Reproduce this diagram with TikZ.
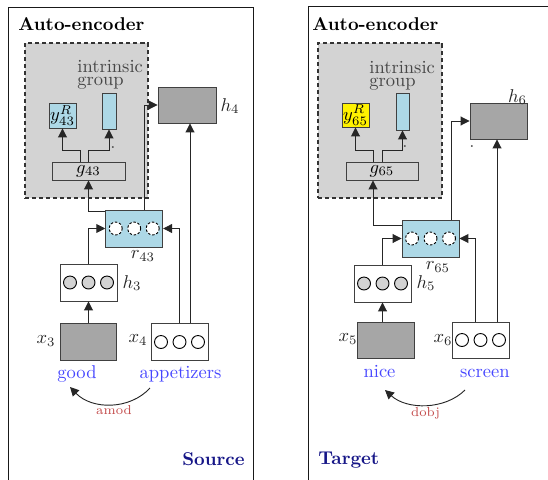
\documentclass[tikz,border=0pt]{standalone}
\usetikzlibrary{arrows.meta,calc}
\def\pxu{0.54pt}
\definecolor{boxblue}{RGB}{173,216,230}
\definecolor{wordblue}{RGB}{70,70,255}
\definecolor{relred}{RGB}{195,75,75}
\definecolor{sidenavy}{RGB}{22,22,135}
\definecolor{grpgray}{RGB}{211,211,211}
\definecolor{hiddengray}{RGB}{166,166,166}
\definecolor{textgray}{RGB}{70,70,70}
\begin{document}
\begin{tikzpicture}[x=\pxu, y=-\pxu,
  sz/.style 2 args={minimum width={#1*\pxu}, minimum height={#2*\pxu}},
  nbox/.style={rectangle, draw=black!75, line width=0.5pt, inner sep=0pt},
  darkbox/.style={nbox, fill=hiddengray},
  bluebox/.style={nbox, fill=boxblue},
  whitebox/.style={nbox, fill=white},
  grpbox/.style={rectangle, draw=black!80, dash pattern=on 2.2pt off 1.6pt, fill=grpgray, line width=0.6pt, inner sep=0pt},
  cell/.style={circle, draw=black, line width=0.5pt, inner sep=0pt, minimum size=7pt},
  embcell/.style={cell, fill=white},
  hidcell/.style={cell, fill=grpgray},
  ctxcell/.style={cell, fill=white, dash pattern=on 1.3pt off 1pt},
  arr/.style={draw=black!85, line width=0.5pt, -{Triangle[length=4.8pt,width=4.8pt]}},
  lbl/.style={inner sep=0pt, text=black!85},
  word/.style={inner sep=0pt, text=wordblue, anchor=base},
  rel/.style={inner sep=0pt, text=relred, font=\scriptsize, anchor=base},
  heading/.style={inner sep=0pt, font=\bfseries, anchor=base west},
  sidelabel/.style={inner sep=0pt, font=\bfseries, text=sidenavy, anchor=base},
  grptext/.style={inner sep=0pt, text=textgray, anchor=base west},
  speck/.style={inner sep=0pt, text=black!70},
  framepen/.style={draw=black!90, line width=0.5pt}]

\useasboundingbox (0,0) rectangle (548,479);
\clip (0,0) rectangle (548,479);

% ---------- panel frames ----------
\draw[framepen] (8,495) -- (8,7) -- (253,7) -- (253,495);
\draw[framepen] (308,495) -- (308,6) -- (560,6);

% ================= source side =================
\node[heading] (ttlS) at (18,31) {Auto-encoder};
\node[grpbox, sz={123}{155}] (grpS) at (86.5,120.5) {};
\node[grptext] (intrS) at (77,72) {intrinsic};
\node[grptext] (groupS) at (77,85) {group};
\node[bluebox, sz={27}{25}] (yS) at (62.5,115.5) {$y^R_{43}$};
\node[bluebox, sz={14}{36}] (barS) at (109,111) {};
\node[speck] (dotS) at (113,148) {.};
\node[nbox, sz={73}{18}] (gS) at (88.5,171) {$g_{43}$};

\node[darkbox, sz={58}{36}] (h4) at (187,105) {};
\node[lbl] (h4l) at (230,106) {$h_4$};

\node[bluebox, sz={57}{37}] (rS) at (134.2,228.5) {};
\foreach \k/\dx in {1/-18.5,2/0,3/18.5}
  \node[ctxcell] (rS\k) at ($(rS)+(\dx,0)$) {};
\node[lbl] (rSl) at (143,256) {$r_{43}$};

\node[whitebox, sz={57}{37}] (h3) at (88.5,282.5) {};
\foreach \k/\dx in {1/-18.5,2/0,3/18.5}
  \node[hidcell] (h3\k) at ($(h3)+(\dx,0)$) {};
\node[lbl] (h3l) at (132,283) {$h_3$};

\node[darkbox, sz={56}{37}] (x3) at (88,341.5) {};
\node[lbl] (x3l) at (46,341) {$x_3$};
\node[whitebox, sz={57}{37}] (x4) at (179.5,341.5) {};
\foreach \k/\dx in {1/-18.5,2/0,3/18.5}
  \node[embcell] (x4\k) at ($(x4)+(\dx,0.5)$) {};
\node[lbl] (x4l) at (138,340) {$x_4$};

\node[word] (good) at (77,378) {good};
\node[word] (appet) at (180.5,378) {appetizers};
\coordinate (amodS) at (150,388);
\coordinate (amodE) at (70,387);
\draw[arr] (amodS) .. controls (130,410) and (92,410) .. (amodE);
\node[rel] (amod) at (114,414) {amod};
\node[sidelabel, anchor=base east] (src) at (245,465) {Source};

% source connectors
\draw[arr] ($(gS.north)+(-8.5,0)$) |- ($(yS.south)+(0,22)$) -- (yS.south);
\draw[arr] (gS.north) |- ($(barS.south)+(0,21)$) -- (barS.south);
\draw[arr] ($(rS.north west)+(0,2)$) -| (gS.south);
\draw[arr] ($(rS.north east)+(-19,0)$) |- (h4.west);
\draw[arr] (h3.north) |- (rS.west);
\draw[arr] (x4.north) |- (rS.east);
\coordinate (x4b) at ($(x4.north)+(10.5,0)$);
\draw[arr] (x4b) -- (x4b |- h4.south);
\draw[arr] (h3.south |- x3.north) -- (h3.south);

% ================= target side =================
\node[heading] (ttlT) at (312,31) {Auto-encoder};
\node[grpbox, sz={124}{155}] (grpT) at (380,120.5) {};
\node[grptext] (intrT) at (369,73) {intrinsic};
\node[grptext] (groupT) at (369,86) {group};
\node[nbox, fill=yellow, sz={27}{24}] (yT) at (355.5,115) {$y^R_{65}$};
\node[bluebox, sz={13}{37}] (barT) at (402.5,111.5) {};
\node[speck] (dotT) at (405,147) {.};
\node[nbox, sz={72}{18}] (gT) at (382,171) {$g_{65}$};

\node[darkbox, sz={57}{36}] (h6) at (498.5,121) {};
\node[lbl] (h6l) at (517.5,97) {$h_6$};
\node[speck] (dotH) at (472,147) {.};

\node[bluebox, sz={57}{37}] (rT) at (430.5,238.5) {};
\foreach \k/\dx in {1/-18.5,2/0,3/18.5}
  \node[ctxcell] (rT\k) at ($(rT)+(\dx,0)$) {};
\node[lbl] (rTl) at (438,267) {$r_{65}$};

\node[whitebox, sz={57}{37}] (h5) at (382.5,283.5) {};
\foreach \k/\dx in {1/-18.5,2/0,3/18.5}
  \node[hidcell] (h5\k) at ($(h5)+(\dx,0)$) {};
\node[lbl] (h5l) at (426,283) {$h_5$};

\node[darkbox, sz={57}{36}] (x5) at (385.5,340) {};
\node[lbl] (x5l) at (348,339) {$x_5$};
\node[whitebox, sz={57}{36}] (x6) at (480.5,340) {};
\foreach \k/\dx in {1/-18.5,2/0,3/18.5}
  \node[embcell] (x6\k) at ($(x6)+(\dx,0)$) {};
\node[lbl] (x6l) at (443,340) {$x_6$};

\node[word] (nice) at (379.5,377) {nice};
\node[word] (screen) at (484.8,377) {screen};
\coordinate (dobjS) at (465,390);
\coordinate (dobjE) at (385,390);
\draw[arr] (dobjS) .. controls (445,410) and (407,410) .. (dobjE);
\node[rel] (dobj) at (425.5,416) {dobj};
\node[sidelabel, anchor=base west] (tgt) at (318,464) {Target};

% target connectors
\draw[arr] ($(gT.north)+(-9,0)$) |- ($(yT.south)+(0,23)$) -- (yT.south);
\draw[arr] (gT.north) |- ($(barT.south)+(0,20)$) -- (barT.south);
\draw[arr] ($(rT.north west)+(0,6)$) -| ($(gT.south)+(-9,0)$);
\draw[arr] ($(rT.north east)+(-8.5,0)$) |- (h6.west);
\draw[arr] (h5.north) |- (rT.west);
\draw[arr] ($(x6.north)+(-5,0)$) |- (rT.east);
\coordinate (x6b) at ($(x6.north)+(16.5,0)$);
\draw[arr] (x6b) -- (x6b |- h6.south);
\draw[arr] (h5.south |- x5.north) -- (h5.south);
\end{tikzpicture}
\end{document}
